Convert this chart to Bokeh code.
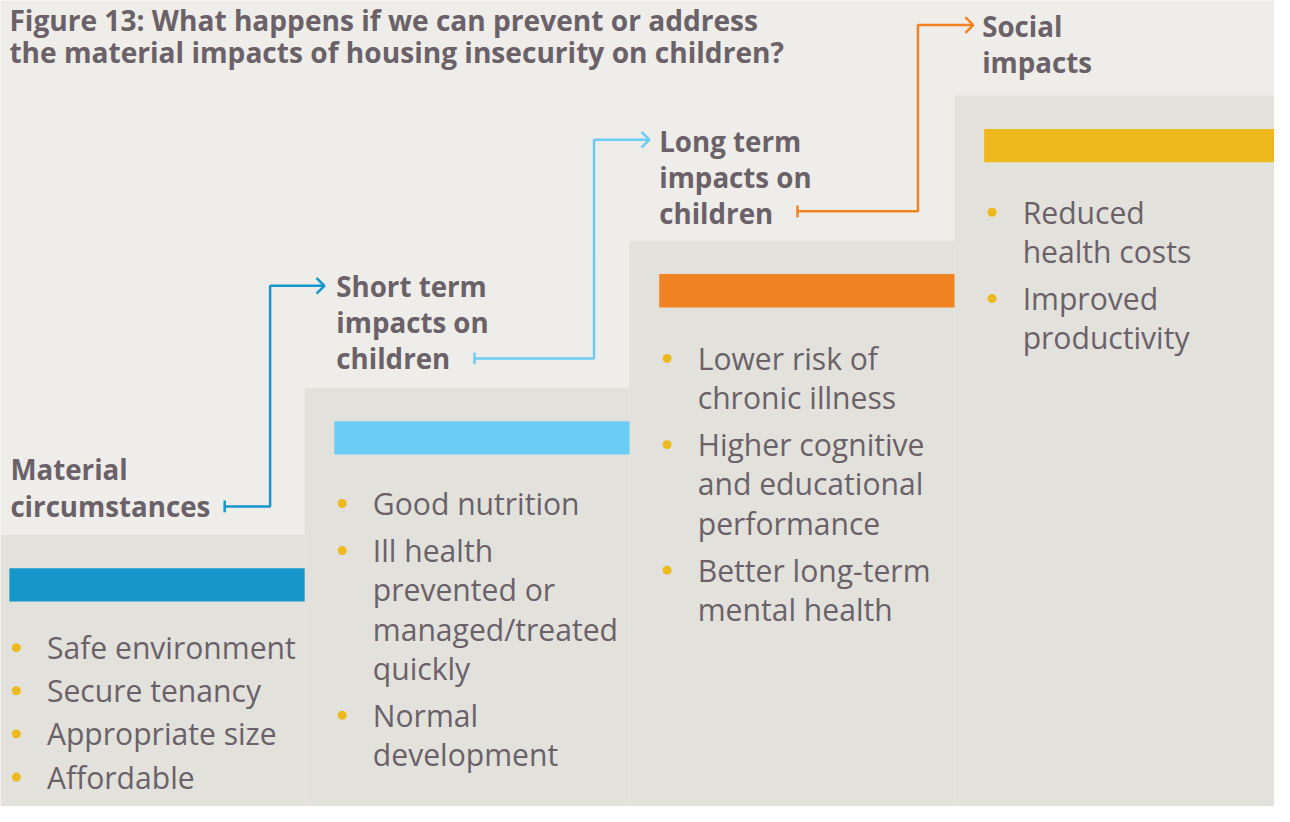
from bokeh.plotting import figure
from bokeh.models import Range1d
from bokeh.core.properties import value
from bokeh.embed import file_html
from bokeh.resources import INLINE

# ---------------- data ----------------
title_lines = ["Figure 13: What happens if we can prevent or address",
               "the material impacts of housing insecurity on children?"]

headings = [["Material", "circumstances"],
            ["Short term", "impacts on", "children"],
            ["Long term", "impacts on", "children"],
            ["Social", "impacts"]]

bullets = [
    [["Safe environment"], ["Secure tenancy"], ["Appropriate size"], ["Affordable"]],
    [["Good nutrition"], ["Ill health", "prevented or", "managed/treated", "quickly"],
     ["Normal", "development"]],
    [["Lower risk of", "chronic illness"], ["Higher cognitive", "and educational", "performance"],
     ["Better long-term", "mental health"]],
    [["Reduced", "health costs"], ["Improved", "productivity"]],
]

step_colors = ["#1597CC", "#6CCDF4", "#F28322", "#EEB91C"]

# ---------------- layout ----------------
W, H = 1290, 822
BG = "#EEEDE9"
STEP_BG = "#E2E1DC"
TXT = "#6B6168"
FONT = "Open Sans"
S = 1274 / 1290.0

step_x0 = [0, 308, 637, 966]
step_x1 = [308, 637, 966, 1290]
step_top = [545, 395, 245, 97]

p = figure(width=1274, height=806, x_range=Range1d(0, W), y_range=Range1d(H, 0),
           output_backend="svg", toolbar_location=None, min_border=0)
p.axis.visible = False
p.grid.visible = False
p.outline_line_color = None
p.background_fill_color = BG
p.border_fill_color = BG

def fs(px):
    return "%.1fpx" % (px * S)

# steps
p.quad(left=step_x0, right=step_x1, top=step_top, bottom=[H] * 4,
       fill_color=STEP_BG, line_color=None)

# coloured bars
bar_l = [x + (9 if i == 0 else 30) for i, x in enumerate(step_x0)]
bar_top = [t + 34 for t in step_top]
p.quad(left=bar_l, right=step_x1, top=bar_top, bottom=[t + 34 for t in bar_top],
       fill_color=step_colors, line_color=None)

# title
p.text(x=[9, 9], y=[20, 53], text=title_lines, text_font=value(FONT),
       text_font_style="bold", text_font_size=fs(28.5), text_color=TXT,
       text_baseline="middle", text_align="left")

# headings
head_x = [10, 340, 667, 994]
head_bottom = [516, 365, 217, 63]
head_gap = [38, 37, 37, 37]
hx, hy, ht = [], [], []
for i, lines in enumerate(headings):
    n = len(lines)
    for j, t in enumerate(lines):
        hx.append(head_x[i])
        hy.append(head_bottom[i] - (n - 1 - j) * head_gap[i])
        ht.append(t)
p.text(x=hx, y=hy, text=ht, text_font=value(FONT), text_font_style="bold",
       text_font_size=fs(28), text_color=TXT, text_baseline="middle", text_align="left")

# bullets
first_y = [660, 513, 365, 216]
line_gap = [44, 40, 40, 40]
item_gap = [44, 48, 48, 48]
bx, by, tx, ty, tt = [], [], [], [], []
for i, items in enumerate(bullets):
    y = first_y[i]
    x0 = step_x0[i] + (16 if i == 0 else 38)
    for item in items:
        bx.append(x0)
        by.append(y)
        for k, line in enumerate(item):
            tx.append(x0 + 31)
            ty.append(y)
            tt.append(line)
            if k < len(item) - 1:
                y += line_gap[i]
        y += item_gap[i]
p.scatter(x=bx, y=by, size=9, fill_color="#EEB91C", line_color=None)
p.text(x=tx, y=ty, text=tt, text_font=value(FONT), text_font_size=fs(30.5),
       text_color=TXT, text_baseline="middle", text_align="left")

# connector arrows
arrow_start = [(227, 516), (480, 365), (807, 215)]
arrow_turn_x = [273, 601, 929]
arrow_end = [(328, 291), (657, 142), (985, 25)]
arrow_cols = [step_colors[0], step_colors[1], step_colors[2]]
for (sx, sy), tx_, (ex, ey), c in zip(arrow_start, arrow_turn_x, arrow_end, arrow_cols):
    p.line(x=[sx, tx_, tx_, ex], y=[sy, sy, ey, ey], line_color=c, line_width=2.5)
    p.line(x=[sx, sx], y=[sy - 6, sy + 6], line_color=c, line_width=2.5)
    p.line(x=[ex - 8, ex, ex - 8], y=[ey - 8, ey, ey + 8], line_color=c, line_width=2.5)

open("out.html", "w").write(file_html(p, INLINE))
